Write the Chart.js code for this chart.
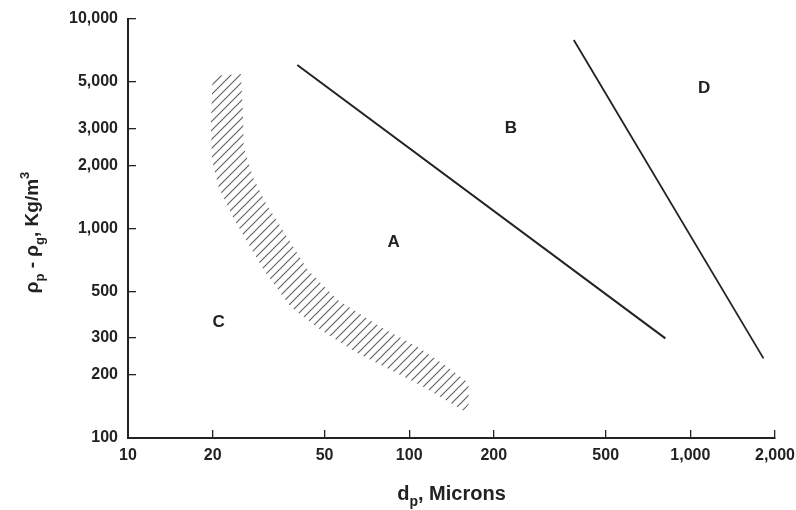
<!DOCTYPE html>
<html>
<head>
<meta charset="utf-8">
<script src="https://cdn.jsdelivr.net/npm/chart.js@4/dist/chart.umd.min.js"></script>
<style>
  html, body { margin: 0; padding: 0; background: #fff; }
  #wrap { width: 796px; height: 510px; }
</style>
</head>
<body>
<div id="wrap"><canvas id="chart" width="796" height="510"></canvas></div>
<script>
// Axis ticks (particle diameter in microns, density difference in kg/m3)
const xTickValues = [10, 20, 50, 100, 200, 500, 1000, 2000];
const yTickValues = [100, 200, 300, 500, 1000, 2000, 3000, 5000, 10000];

// A/B boundary line
const abDp  = [40, 815];
const abRho = [6030, 299];

// B/D boundary line
const bdDp  = [385, 1820];
const bdRho = [7940, 240];

// Hatched C/A transition band: lower-left edge (top to bottom)
const bandLowerDp  = [20.0, 19.7, 19.9, 21.0, 23.6, 26.3, 30.4, 37.9, 48.5, 65.6, 86.0, 112.6, 140.4, 156.2];
const bandLowerRho = [5350, 3050, 2120, 1578, 1134, 881, 634, 422, 328, 254, 211, 175, 147, 135];
// upper-right edge (top to bottom)
const bandUpperDp  = [25.2, 25.6, 25.8, 27.8, 30.9, 35.5, 43.6, 55.7, 79.2, 107.2, 137, 162.7, 162.7];
const bandUpperRho = [5465, 3678, 2449, 1762, 1323, 983, 634, 456, 339, 272, 218, 183, 144];

// Group labels
const regionNames = ['A', 'B', 'C', 'D'];
const regionDp    = [88, 230, 21, 1120];
const regionRho   = [860, 3000, 355, 4650];

const FONT = "'Liberation Sans', Arial, Helvetica, sans-serif";
const INK = '#222';

const pts = (xs, ys) => xs.map((x, i) => ({ x, y: ys[i] }));

// closed outline of the band: down the lower edge, back up the upper edge
const bandOutline = pts(bandLowerDp, bandLowerRho)
  .concat(pts(bandUpperDp, bandUpperRho).reverse());

function makeHatch() {
  const s = 9;
  const c = document.createElement('canvas');
  c.width = s; c.height = s;
  const g = c.getContext('2d');
  g.strokeStyle = 'rgba(60,60,60,0.8)';
  g.lineWidth = 1.2;
  g.beginPath();
  g.moveTo(-1, s + 1); g.lineTo(s + 1, -1);
  g.moveTo(-1, 1); g.lineTo(1, -1);
  g.moveTo(s - 1, s + 1); g.lineTo(s + 1, s - 1);
  g.stroke();
  return g.createPattern(c, 'repeat');
}

// draws a run of text pieces with sub/superscripts, centred on the origin
function drawRich(ctx, parts, size) {
  const pieces = parts.map(p => {
    const fs = p.sub || p.sup ? Math.round(size * 0.68) : size;
    ctx.font = `bold ${fs}px ${FONT}`;
    return { ...p, fs, w: ctx.measureText(p.t).width };
  });
  const total = pieces.reduce((a, p) => a + p.w, 0);
  let x = -total / 2;
  ctx.textBaseline = 'alphabetic';
  ctx.textAlign = 'left';
  for (const p of pieces) {
    ctx.font = `bold ${p.fs}px ${FONT}`;
    const dy = p.sub ? size * 0.3 : p.sup ? -size * 0.45 : 0;
    ctx.fillText(p.t, x, dy);
    x += p.w;
  }
}

const annotations = {
  id: 'annotations',
  afterDraw(chart) {
    const { ctx, scales: { x, y }, chartArea } = chart;
    ctx.save();
    ctx.fillStyle = INK;
    // group letters
    ctx.font = `bold 17px ${FONT}`;
    ctx.textAlign = 'center';
    ctx.textBaseline = 'middle';
    regionNames.forEach((n, i) => {
      ctx.fillText(n, x.getPixelForValue(regionDp[i]), y.getPixelForValue(regionRho[i]));
    });
    // x axis title
    ctx.save();
    ctx.translate((chartArea.left + chartArea.right) / 2, 500);
    drawRich(ctx, [{ t: 'd' }, { t: 'p', sub: true }, { t: ', Microns' }], 20);
    ctx.restore();
    // y axis title
    ctx.save();
    ctx.translate(38, (chartArea.top + chartArea.bottom) / 2 + 4);
    ctx.rotate(-Math.PI / 2);
    drawRich(ctx, [{ t: 'ρ' }, { t: 'p', sub: true }, { t: ' - ρ' }, { t: 'g', sub: true },
                   { t: ', Kg/m' }, { t: '3', sup: true }], 19);
    ctx.restore();
    ctx.restore();
  }
};

const fmt = v => Number(v).toLocaleString('en-US');

new Chart(document.getElementById('chart'), {
  type: 'line',
  data: {
    datasets: [
      {
        data: bandOutline,
        borderWidth: 0,
        borderColor: 'rgba(0,0,0,0)',
        backgroundColor: makeHatch(),
        fill: 'shape',
        pointRadius: 0,
        tension: 0
      },
      {
        data: pts(abDp, abRho),
        borderColor: INK,
        borderWidth: 2,
        pointRadius: 0,
        fill: false
      },
      {
        data: pts(bdDp, bdRho),
        borderColor: INK,
        borderWidth: 1.8,
        pointRadius: 0,
        fill: false
      }
    ]
  },
  options: {
    responsive: false,
    animation: false,
    events: [],
    layout: { padding: { top: 19, right: 21, left: 0, bottom: 0 } },
    plugins: { legend: { display: false }, tooltip: { enabled: false } },
    scales: {
      x: {
        type: 'logarithmic',
        min: 10, max: 2000,
        afterBuildTicks: s => { s.ticks = xTickValues.map(v => ({ value: v })); },
        afterFit: s => { s.height = 72; s.paddingLeft = 0; s.paddingRight = 0; },
        border: { display: true, color: INK, width: 2 },
        grid: { drawOnChartArea: false, drawTicks: true, tickLength: -8, color: INK, lineWidth: 1.3 },
        ticks: {
          autoSkip: false, maxRotation: 0, padding: 16,
          color: INK, font: { family: FONT, size: 16, weight: 'bold' },
          callback: v => fmt(v)
        }
      },
      y: {
        type: 'logarithmic',
        min: 100, max: 10000,
        afterBuildTicks: s => { s.ticks = yTickValues.map(v => ({ value: v })); },
        afterFit: s => { s.width = 128; s.paddingTop = 0; s.paddingBottom = 0; },
        border: { display: true, color: INK, width: 2 },
        grid: { drawOnChartArea: false, drawTicks: true, tickLength: -8, color: INK, lineWidth: 1.3 },
        ticks: {
          autoSkip: false, padding: 18,
          color: INK, font: { family: FONT, size: 16, weight: 'bold' },
          callback: v => fmt(v)
        }
      }
    }
  },
  plugins: [annotations]
});
</script>
</body>
</html>
